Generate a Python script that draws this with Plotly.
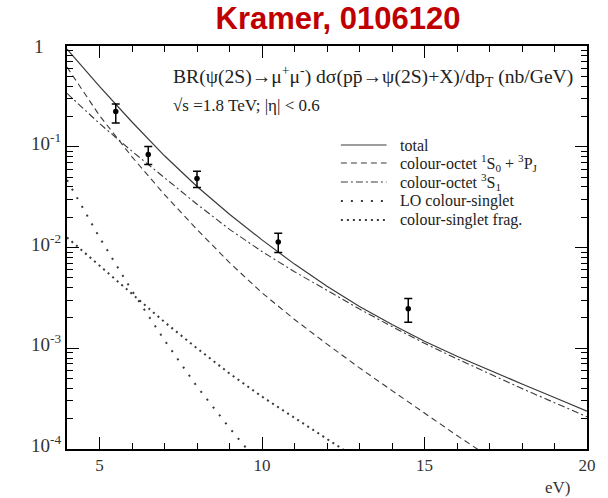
import math
import plotly.graph_objects as go

# ---- data ----
pt_grid = [4, 5, 6, 7, 8, 9, 10, 11, 12, 13, 14, 15, 16, 17, 18, 19, 20]
total = [0.933, 0.398, 0.176, 0.0813, 0.0403, 0.0214, 0.0119, 0.00684, 0.00412,
         0.0026, 0.00172, 0.001175, 0.000832, 0.000603, 0.000442, 0.000324, 0.000237]
octet_3s1 = [0.339, 0.170, 0.0902, 0.049, 0.0269, 0.01514, 0.00912, 0.00575, 0.00372,
             0.00245, 0.00164, 0.00112, 0.000785, 0.000556, 0.000398, 0.000288, 0.000209]
pt_octet_1s0 = [4, 5, 6, 7, 8, 9, 10, 11, 12, 13, 14, 15, 16, 17]
octet_1s0 = [0.617, 0.204, 0.0794, 0.0335, 0.0151, 0.00708, 0.00355, 0.00193, 0.0011,
             0.000638, 0.00038, 0.000226, 0.000136, 0.0000832]
pt_lo = [4, 5, 6, 7, 8, 9, 10]
lo_singlet = [0.0468, 0.0126, 0.00372, 0.0012, 0.000417, 0.000162, 0.0000661]
pt_frag = [4, 5, 6, 7, 8, 9, 10, 11, 12, 13]
singlet_frag = [0.0126, 0.00661, 0.00347, 0.00182, 0.001, 0.000562, 0.000331,
                0.000204, 0.000126, 0.0000776]

data_pt = [5.5, 6.5, 8.0, 10.5, 14.5]
data_val = [0.224, 0.0838, 0.0483, 0.01133, 0.00247]
data_err_up = [0.041, 0.0167, 0.0087, 0.0025, 0.00065]
data_err_dn = [0.052, 0.017, 0.009, 0.0024, 0.00066]

x_ticks = [5, 10, 15, 20]
y_ticks = [1, 0.1, 0.01, 0.001, 0.0001]
y_ticktext = ["1", "10<sup>-1</sup>", "10<sup>-2</sup>", "10<sup>-3</sup>", "10<sup>-4</sup>"]

legend_names = ["total",
                "colour-octet <sup>1</sup>S<sub>0</sub> + <sup>3</sup>P<sub>J</sub>",
                "colour-octet <sup>3</sup>S<sub>1</sub>",
                "LO colour-singlet",
                "colour-singlet frag."]
legend_dashes = ["solid", "6px,4px", "7px,3px,2px,3px", "2px,8px", "2px,4px"]
legend_widths = [1.2, 1.1, 1.1, 2, 2]

SERIF = "Liberation Serif"
LC = "#3a3a3a"

# plot area geometry (px) used for paper-coordinate decorations
W, H = 608, 498
ML, MR, MT, MB = 67, 17, 46, 49
PW, PH = W - ML - MR, H - MT - MB


def px_x(px):
    return (px - ML) / PW


def px_y(py):
    return 1 - (py - MT) / PH


fig = go.Figure()
curves = [(pt_grid, total), (pt_octet_1s0, octet_1s0), (pt_grid, octet_3s1),
          (pt_lo, lo_singlet), (pt_frag, singlet_frag)]
for (xs, ys), name, dash, w in zip(curves, legend_names, legend_dashes, legend_widths):
    fig.add_trace(go.Scatter(x=xs, y=ys, mode="lines", name=name, showlegend=False,
                             line=dict(color=LC, width=w, dash=dash)))

fig.add_trace(go.Scatter(x=data_pt, y=data_val, mode="markers", showlegend=False,
                         marker=dict(color="black", size=5.5),
                         error_y=dict(type="data", symmetric=False, array=data_err_up,
                                      arrayminus=data_err_dn, color="black",
                                      thickness=1.5, width=4)))

axis_common = dict(showline=True, linecolor="black", linewidth=1.5, mirror="ticks",
                   ticks="inside", tickcolor="black", showgrid=False, zeroline=False)

fig.update_xaxes(range=[4, 20], tickvals=x_ticks, ticklen=12, tickwidth=1.2,
                 tickfont=dict(family=SERIF, size=17, color="#333"),
                 minor=dict(ticks="inside", ticklen=6, dtick=1, tickcolor="black",
                            tickwidth=1, showgrid=False),
                 **axis_common)
fig.update_yaxes(type="log", range=[-4, 0], tickvals=y_ticks, showticklabels=False,
                 ticklen=12, tickwidth=1.2,
                 minor=dict(ticks="inside", ticklen=6, dtick="D1", tickcolor="black",
                            tickwidth=1, showgrid=False),
                 **axis_common)

annotations = []
# y tick labels
for v, t in zip(y_ticks, y_ticktext):
    is_one = (t == "1")
    annotations.append(dict(
        text=t, xref="paper", yref="y", y=math.log10(v),
        x=px_x(46 if is_one else 63), xanchor="right", yanchor="middle",
        yshift=0 if is_one else 5, showarrow=False,
        font=dict(family=SERIF, size=19, color="#333")))

# text block
annotations += [
    dict(text="BR(ψ(2S)→μ<sup>+</sup>μ<sup>-</sup>) dσ(pp̄→ψ(2S)+X)/dp<sub>T</sub> (nb/GeV)",
         xref="paper", yref="paper", x=px_x(172), y=px_y(76), xanchor="left",
         yanchor="middle", showarrow=False, font=dict(family=SERIF, size=19.6, color="#222")),
    dict(text="√s =1.8 TeV; |η| < 0.6",
         xref="paper", yref="paper", x=px_x(172), y=px_y(106), xanchor="left",
         yanchor="middle", showarrow=False, font=dict(family=SERIF, size=17, color="#222")),
    dict(text="eV)", xref="paper", yref="paper", x=px_x(561), y=px_y(487), xanchor="center",
         yanchor="middle", showarrow=False, font=dict(family=SERIF, size=17, color="#333")),
]

# legend (drawn manually to match the original layout)
legend_rows_px = [145, 163, 182, 201, 220]
shapes = []
for name, dash, w, ry in zip(legend_names, legend_dashes, legend_widths, legend_rows_px):
    shapes.append(dict(type="line", xref="paper", yref="paper",
                       x0=px_x(343), x1=px_x(389), y0=px_y(ry), y1=px_y(ry),
                       line=dict(color=LC, width=w, dash=dash)))
    annotations.append(dict(text=name, xref="paper", yref="paper", x=px_x(401),
                            y=px_y(ry), xanchor="left", yanchor="middle", showarrow=False,
                            font=dict(family=SERIF, size=16, color="#222")))

fig.update_layout(
    width=W, height=H,
    margin=dict(l=ML, r=MR, t=MT, b=MB),
    paper_bgcolor="white", plot_bgcolor="white",
    title=dict(text="<b>Kramer, 0106120</b>", x=338 / W, xanchor="center", y=1 - 18 / H,
               yanchor="middle", font=dict(family="Liberation Sans", size=31, color="#c00000")),
    showlegend=False,
    annotations=annotations,
    shapes=shapes,
)

fig.write_html("out.html")
